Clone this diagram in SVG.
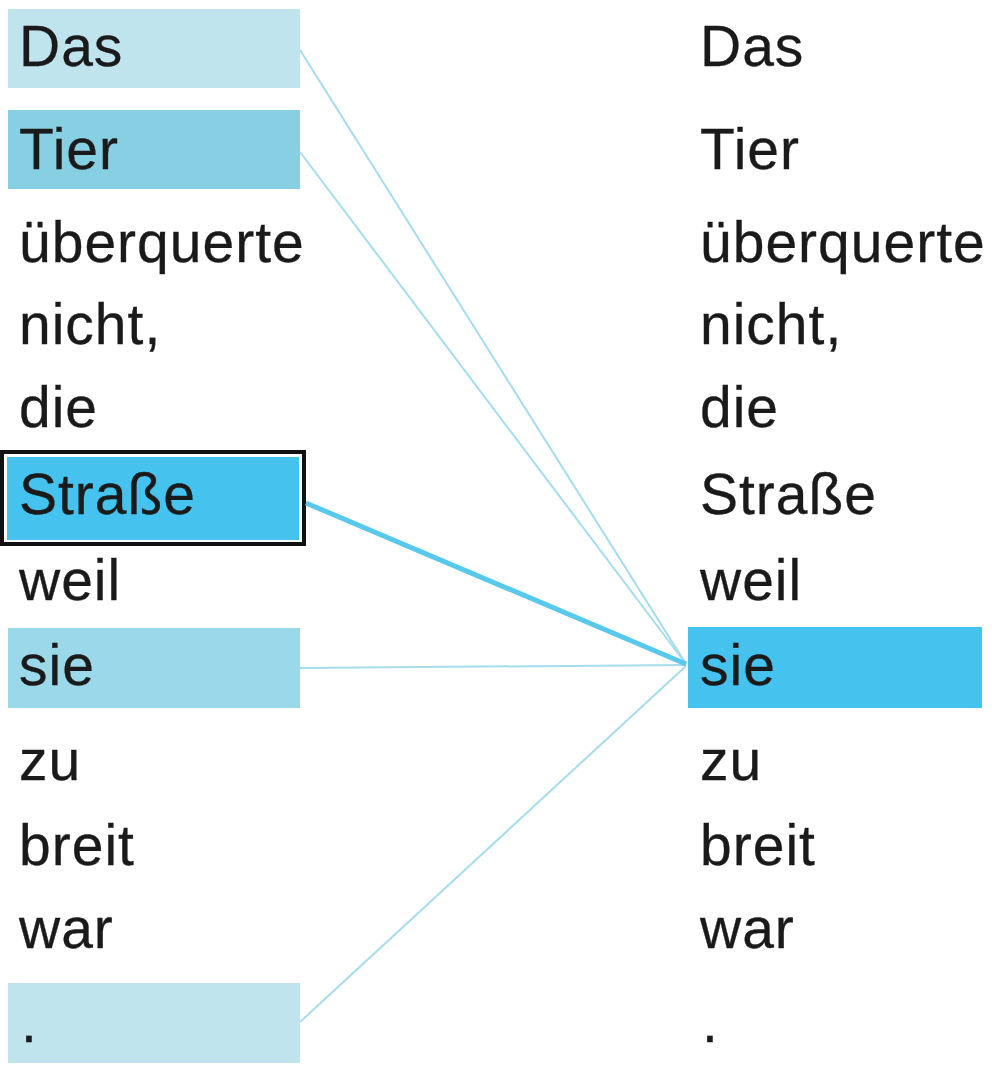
<svg xmlns="http://www.w3.org/2000/svg" width="992" height="1072" viewBox="0 0 992 1072">
<style>
text{font-family:"Liberation Sans",Arial,sans-serif;font-size:57px;fill:#1a1a1a;stroke:#1a1a1a;stroke-width:0.3;letter-spacing:1px}
.c{fill:none;stroke:#a6dceb;stroke-width:2}
.strong{fill:none;stroke:#58c8ec;stroke-width:5}
</style>
<rect width="992" height="1072" fill="#ffffff"/>
<g id="left">
<g id="l-das"><rect x="8" y="9" width="292" height="79" fill="#bfe4ed"/><text x="19" y="66">Das</text></g>
<g id="l-tier"><rect x="8" y="110" width="292" height="79" fill="#87d0e3"/><text x="19" y="169">Tier</text></g>
<g id="l-uberquerte"><text x="19" y="262">überquerte</text></g>
<g id="l-nicht"><text x="19" y="344">nicht,</text></g>
<g id="l-die"><text x="19" y="427">die</text></g>
<g id="l-strasse"><rect x="7" y="457" width="292" height="83" fill="#45c3ee"/><rect x="2" y="452" width="302" height="92" fill="none" stroke="#111" stroke-width="4"/><text x="19" y="514">Straße</text></g>
<g id="l-weil"><text x="19" y="600">weil</text></g>
<g id="l-sie"><rect x="8" y="628" width="292" height="80" fill="#9ad8ea"/><text x="19" y="685">sie</text></g>
<g id="l-zu"><text x="19" y="780">zu</text></g>
<g id="l-breit"><text x="19" y="865">breit</text></g>
<g id="l-war"><text x="19" y="948">war</text></g>
<g id="l-period"><rect x="8" y="983" width="292" height="80" fill="#bfe4ed"/><text x="21" y="1042">.</text></g>
</g>
<g id="right">
<g id="r-das"><text x="700" y="66">Das</text></g>
<g id="r-tier"><text x="700" y="169">Tier</text></g>
<g id="r-uberquerte"><text x="700" y="262">überquerte</text></g>
<g id="r-nicht"><text x="700" y="344">nicht,</text></g>
<g id="r-die"><text x="700" y="427">die</text></g>
<g id="r-strasse"><text x="700" y="514">Straße</text></g>
<g id="r-weil"><text x="700" y="600">weil</text></g>
<g id="r-sie"><rect x="688" y="627" width="294" height="81" fill="#45c3ee"/><text x="700" y="685">sie</text></g>
<g id="r-zu"><text x="700" y="780">zu</text></g>
<g id="r-breit"><text x="700" y="865">breit</text></g>
<g id="r-war"><text x="700" y="948">war</text></g>
<g id="r-period"><text x="702" y="1042">.</text></g>
</g>
<g id="connectors">
<line class="c" x1="300" y1="50" x2="686" y2="664"/>
<line class="c" x1="300" y1="152" x2="686" y2="664"/>
<line class="c" x1="300" y1="668" x2="686" y2="665"/>
<line class="c" x1="300" y1="1022" x2="686" y2="666"/>
<line class="strong" x1="306" y1="503" x2="686" y2="664"/>
</g>
</svg>
